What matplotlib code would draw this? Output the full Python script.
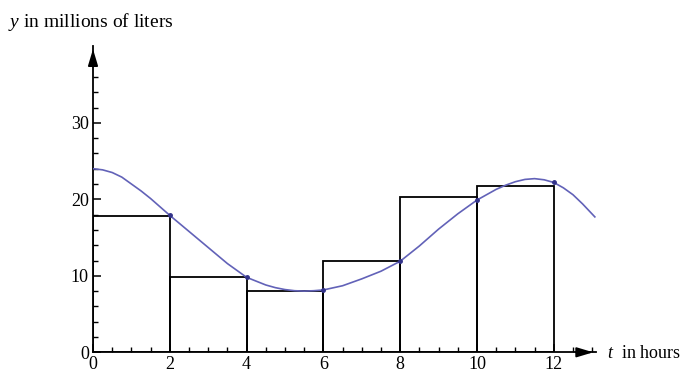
import matplotlib
matplotlib.use("Agg")
import matplotlib.pyplot as plt
from matplotlib.ticker import MultipleLocator, FixedLocator

# right-endpoint rectangles, 2 hours wide
rect_left = [0, 2, 4, 6, 8, 10]
rect_height = [17.8, 9.8, 8.0, 11.9, 20.3, 21.8]

# flow curve
curve_t = [0, 0.25, 0.5, 0.75, 1, 1.25, 1.5, 1.75, 2, 2.5, 3, 3.5, 4, 4.5,
           4.75, 5, 5.25, 5.5, 5.75, 6, 6.5, 7, 7.5, 8, 8.5, 9, 9.5, 10,
           10.5, 10.75, 11, 11.25, 11.5, 11.75, 12, 12.25, 12.5, 12.75, 13.07]
curve_y = [24.0, 23.85, 23.5, 22.9, 22.0, 21.1, 20.1, 19.0, 17.9, 15.8, 13.7,
           11.6, 9.8, 8.8, 8.45, 8.2, 8.05, 8.0, 8.05, 8.15, 8.7, 9.6, 10.6,
           11.9, 13.9, 16.1, 18.1, 19.9, 21.3, 21.85, 22.3, 22.6, 22.7, 22.55,
           22.2, 21.5, 20.6, 19.4, 17.7]

# sample points marked on the curve
dot_t = [2, 4, 6, 8, 10, 12]
dot_y = [17.9, 9.8, 8.15, 11.9, 19.9, 22.2]

plt.rcParams["font.family"] = "Liberation Serif"
plt.rcParams["mathtext.fontset"] = "custom"
plt.rcParams["mathtext.it"] = "Liberation Serif:italic"
plt.rcParams["mathtext.rm"] = "Liberation Serif"


def main():
    fig = plt.figure(figsize=(6.86, 3.75), dpi=100)
    ax = fig.add_axes([93 / 686, 22.7 / 375, 503 / 686, 306 / 375])
    ax.set_xlim(0, 13.1)
    ax.set_ylim(0, 40)

    ax.bar(rect_left, rect_height, width=2, align="edge", fill=False,
           edgecolor="black", linewidth=1.3, zorder=2)
    ax.plot(curve_t, curve_y, color="#6262b8", lw=1.2, zorder=3,
            solid_joinstyle="round")
    ax.plot(dot_t, dot_y, "o", color="#33338a", ms=2.5, zorder=4)

    for side in ["top", "right"]:
        ax.spines[side].set_visible(False)
    for side in ["left", "bottom"]:
        ax.spines[side].set_linewidth(1.3)

    ax.xaxis.set_major_locator(MultipleLocator(2))
    ax.xaxis.set_minor_locator(MultipleLocator(0.5))
    ax.yaxis.set_major_locator(FixedLocator([0, 10, 20, 30]))
    ax.yaxis.set_minor_locator(FixedLocator(range(2, 38, 2)))
    ax.tick_params(which="major", direction="in", length=6, width=1.1,
                   labelsize=13)
    ax.tick_params(axis="x", which="major", pad=3)
    ax.tick_params(axis="y", which="major", pad=3)
    ax.tick_params(which="minor", direction="in", length=3.5, width=1.0)

    arrow = dict(arrowstyle="-|>,head_length=1.0,head_width=0.3",
                 color="black", lw=1.3, mutation_scale=10)
    ax.annotate("", xy=(13.1, 0), xytext=(12.5, 0), arrowprops=arrow,
                annotation_clip=False)
    ax.annotate("", xy=(0, 40), xytext=(0, 37), arrowprops=arrow,
                annotation_clip=False)

    fig.text(8 / 686, 1 - 22 / 375, "$y$ in millions of liters", fontsize=14,
             va="center", ha="left")
    fig.text(607 / 686, 1 - 353 / 375, "$t$  in hours", fontsize=13,
             va="center", ha="left")

    plt.savefig("out.png", dpi=100)


if __name__ == "__main__":
    main()
